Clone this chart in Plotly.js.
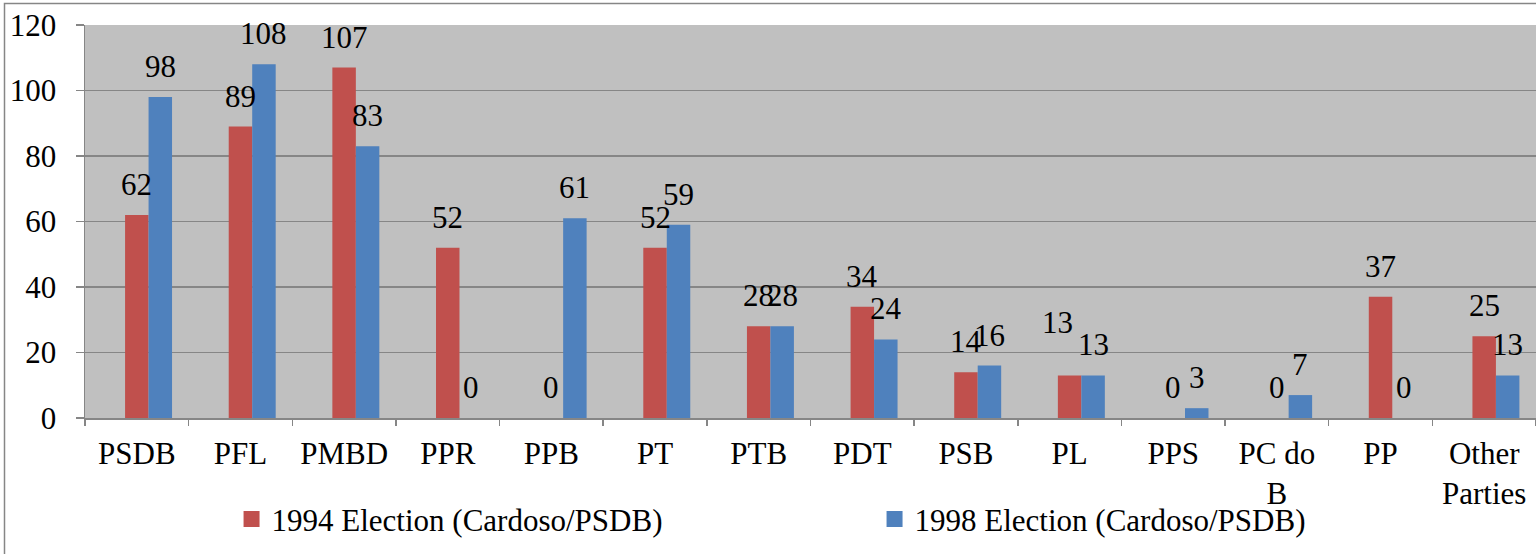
<!DOCTYPE html>
<html>
<head>
<meta charset="utf-8">
<script src="https://cdn.plot.ly/plotly-3.0.1.min.js"></script>
<style>
html,body{margin:0;padding:0;background:#fff;}
#chart{width:1536px;height:554px;}
</style>
</head>
<body>
<div id="chart"></div>
<script>
const categories = ["PSDB","PFL","PMBD","PPR","PPB","PT","PTB","PDT","PSB","PL","PPS","PC do<br>B","PP","Other<br>Parties"];
const seats1994 = [62,89,107,52,0,52,28,34,14,13,0,0,37,25];
const seats1998 = [98,108,83,0,61,59,28,24,16,13,3,7,0,13];
const seriesNames = ["1994 Election (Cardoso/PSDB)","1998 Election (Cardoso/PSDB)"];
const yTicks = [0,20,40,60,80,100,120];

const RED = "#C0504D", BLUE = "#4F81BD", GRID = "#868686";
const FONT = "Liberation Serif";
const FS = 31;
const BW = 0.2266; // bar width in category units

const traces = [
  {type:"bar", name:seriesNames[0], x:categories, y:seats1994, showlegend:false,
   width:BW, offset:-BW/2, marker:{color:RED}},
  {type:"bar", name:seriesNames[1], x:categories, y:seats1998, showlegend:false,
   width:BW, offset:BW/2, marker:{color:BLUE}},
  // legend entries (no visible points)
  {type:"scatter", mode:"markers", name:seriesNames[0], x:[categories[0]], y:[null],
   marker:{symbol:"square", size:18, color:RED}, hoverinfo:"skip"},
  {type:"scatter", mode:"markers", name:seriesNames[1], x:[categories[0]], y:[null],
   marker:{symbol:"square", size:18, color:BLUE}, hoverinfo:"skip"}
];

// label nudges (px) where the original moved a label to avoid a collision
const labelNudge = {"0|PL": {dx:-12, dy:22}};

const annotations = [];
const pxShift = 23.5;
[seats1994, seats1998].forEach((vals, s) => {
  vals.forEach((v, i) => {
    const n = labelNudge[s + "|" + categories[i]] || {dx:0, dy:0};
    annotations.push({
      x: categories[i], y: v, xref:"x", yref:"y",
      text: String(v), showarrow:false,
      xanchor:"center", yanchor:"bottom",
      xshift: (s === 0 ? 0 : pxShift) + n.dx, yshift: 11 + n.dy,
      font:{family:FONT, size:FS, color:"#000"}
    });
  });
});

const layout = {
  width:1536, height:554,
  margin:{l:85, r:0, t:25, b:136, pad:0},
  paper_bgcolor:"#ffffff",
  plot_bgcolor:"#C0C0C0",
  barmode:"overlay",
  font:{family:FONT, size:FS, color:"#000"},
  showlegend:true,
  legend:{orientation:"h", x:0.101, xanchor:"left", y:-0.258, yanchor:"middle",
          font:{family:FONT, size:FS, color:"#000"}, entrywidth:598, entrywidthmode:"pixels",
          bgcolor:"rgba(0,0,0,0)", traceorder:"normal"},
  xaxis:{type:"category", range:[-0.5, categories.length - 0.5], autorange:false,
         showline:true, linecolor:GRID, linewidth:1.5,
         ticks:"outside", tickson:"boundaries", ticklen:6, tickcolor:GRID, tickwidth:1.5,
         showgrid:false, zeroline:false, ticklabelstandoff:7,
         tickfont:{family:FONT, size:FS, color:"#000"}},
  yaxis:{range:[0,120], autorange:false, tickvals:yTicks, ticktext:yTicks.map(String),
         showline:true, linecolor:GRID, linewidth:1.5,
         ticks:"outside", ticklen:8, tickcolor:GRID, tickwidth:1.5,
         showgrid:true, gridcolor:GRID, gridwidth:1.5, zeroline:false,
         ticklabelstandoff:13,
         tickfont:{family:FONT, size:FS, color:"#000"}},
  annotations: annotations,
  shapes:[{type:"rect", xref:"paper", yref:"paper",
           x0:(4.5-85)/1451, x1:1.01, y0:-0.36, y1:(418-3.5)/393,
           line:{color:GRID, width:1.5}, fillcolor:"rgba(0,0,0,0)", layer:"above"}]
};

Plotly.newPlot("chart", traces, layout, {displayModeBar:false, staticPlot:true});
</script>
</body>
</html>
